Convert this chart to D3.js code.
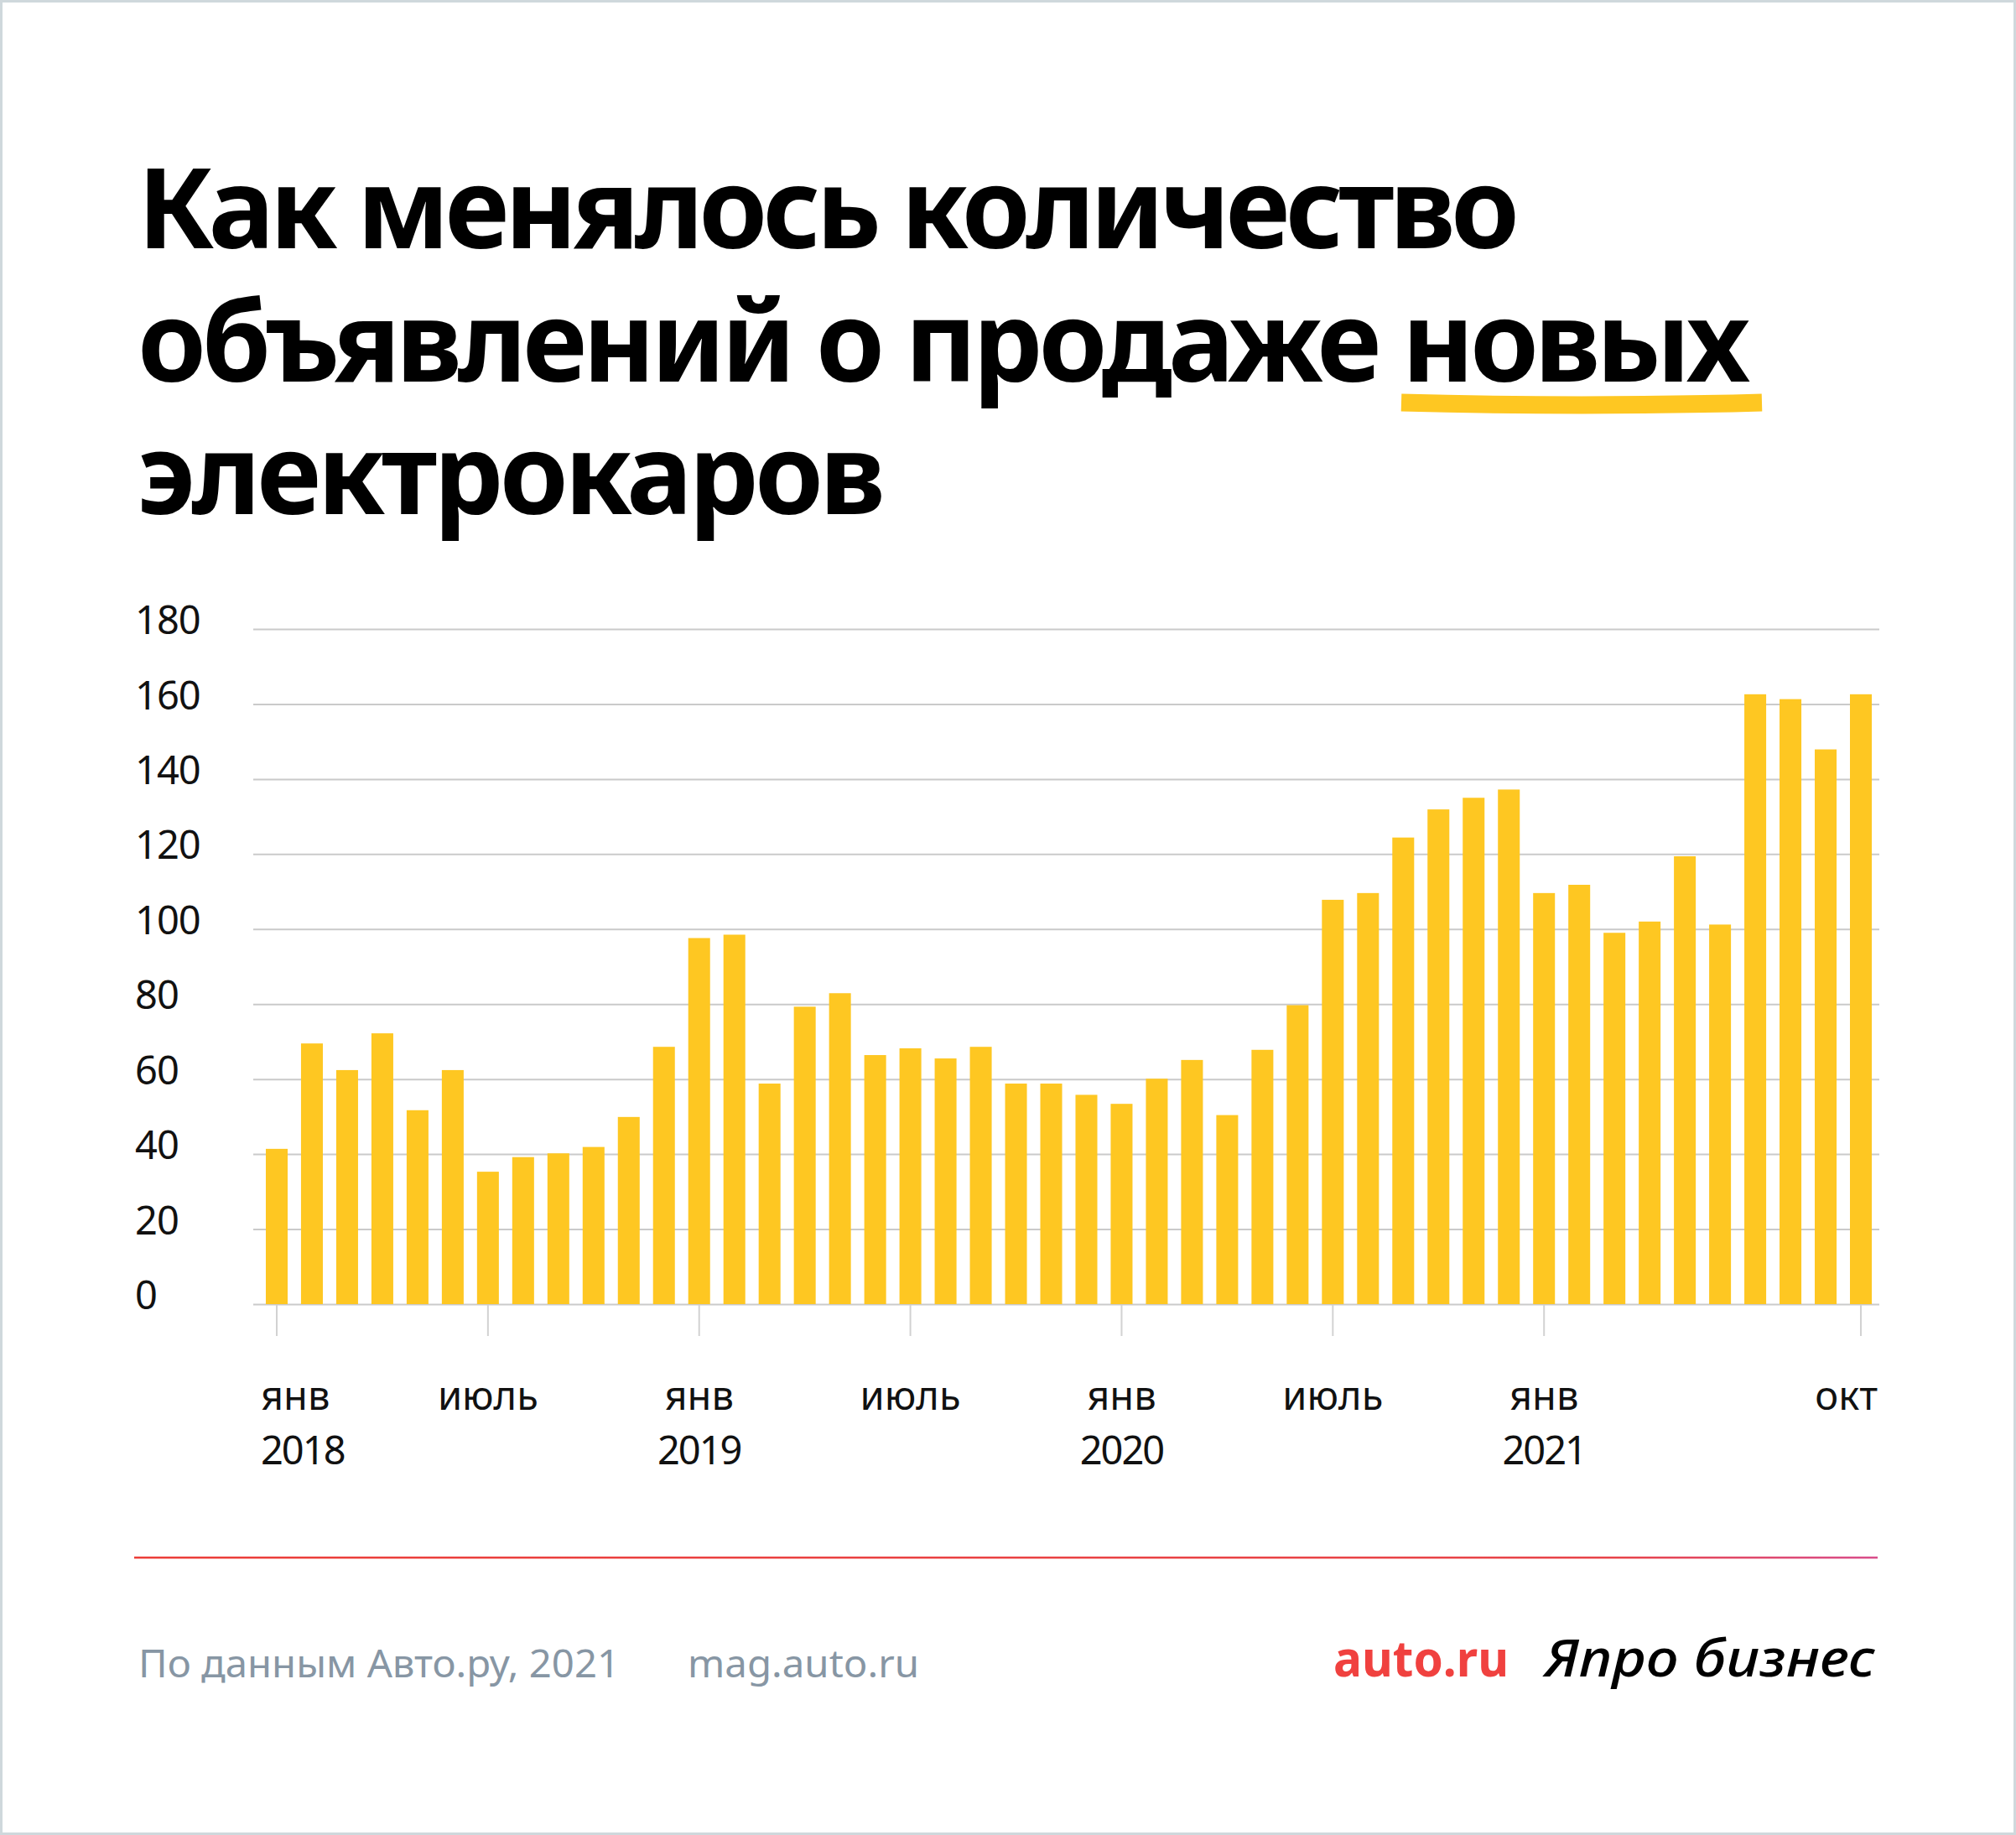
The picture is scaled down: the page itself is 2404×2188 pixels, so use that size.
<!DOCTYPE html>
<html>
<head>
<meta charset="utf-8">
<script src="https://cdn.jsdelivr.net/npm/d3@7"></script>
<style>
  html, body { margin: 0; padding: 0; background: #fff; }
  svg { display: block; }
</style>
</head>
<body>
<svg id="chart" width="2404" height="2188"></svg>
<script>
// months, Jan 2018 .. Oct 2021
const months = [
  "2018-01","2018-02","2018-03","2018-04","2018-05","2018-06","2018-07","2018-08","2018-09","2018-10","2018-11","2018-12",
  "2019-01","2019-02","2019-03","2019-04","2019-05","2019-06","2019-07","2019-08","2019-09","2019-10","2019-11","2019-12",
  "2020-01","2020-02","2020-03","2020-04","2020-05","2020-06","2020-07","2020-08","2020-09","2020-10","2020-11","2020-12",
  "2021-01","2021-02","2021-03","2021-04","2021-05","2021-06","2021-07","2021-08","2021-09","2021-10"
]

// number of listings
const listings = [
  41.4, 69.5, 62.4, 72.2, 51.7, 62.4, 35.3, 39.2, 40.2, 41.9, 49.9, 68.6,
  97.6, 98.5, 58.8, 79.3, 82.9, 66.4, 68.2, 65.5, 68.6, 58.8, 58.8, 55.8,
  53.4, 60.1, 65.1, 50.4, 67.8, 79.7, 107.8, 109.6, 124.4, 131.9, 135.0, 137.2,
  109.6, 111.8, 99.0, 102.0, 119.4, 101.2, 162.6, 161.3, 147.9, 162.6
]

const yTicks = [0, 20, 40, 60, 80, 100, 120, 140, 160, 180]

const tickMonths = ["2018-01","2018-07","2019-01","2019-07","2020-01","2020-07","2021-01","2021-10"]
const tickMonthLabels = ["янв","июль","янв","июль","янв","июль","янв","окт"]
const tickYearLabels = ["2018","","2019","","2020","","2021",""]

const titleLines = ["Как менялось количество", "объявлений о продаже новых", "электрокаров"]
const underlinedWord = "новых"

const sourceText = "По данным Авто.ру, 2021"
const siteText = "mag.auto.ru"

const barColor = "#fec722"
const gridColor = "#cacaca"
const labelFont = "'Noto Sans', 'DejaVu Sans', sans-serif"

var svg = d3.select("#chart")

// frame
svg.append("rect")
  .attr("x", 1.5).attr("y", 1.5)
  .attr("width", 2401).attr("height", 2185)
  .attr("fill", "#fff")
  .attr("stroke", "#cfd8dc")
  .attr("stroke-width", 3)

// title
const titleX = 164
const titleBase = [296, 455, 613]
const titleWidths = [1648, 1923, 892]

var title = svg.append("g")
titleLines.forEach((line, i) => {
  let t = title.append("text")
    .attr("x", titleX)
    .attr("y", titleBase[i])
    .attr("font-family", labelFont)
    .attr("font-weight", 700)
    .attr("font-size", 132)
    .attr("fill", "#000")
    .text(line)
  t.attr("textLength", titleWidths[i]).attr("lengthAdjust", "spacing")

  // yellow brush line under the word
  let k = line.indexOf(underlinedWord)
  if (k >= 0) {
    let n = t.node()
    let x1 = n.getEndPositionOfChar(k + underlinedWord.length - 1).x + 14
    let x0 = x1 - 430
    let yb = titleBase[i] + 25
    title.insert("path", "text")
      .attr("d", `M${x0},${yb} Q${(x0 + x1) / 2},${yb + 6} ${x1},${yb}`)
      .attr("fill", "none")
      .attr("stroke", barColor)
      .attr("stroke-width", 21)
  }
})

// scales
const plotLeft = 302, plotRight = 2241
const yBottom = 1555, yTop = 750

var x = d3.scaleBand()
  .domain(months)
  .range([309, 2240])
  .paddingInner(0.38)
  .paddingOuter(0.19)

var y = d3.scaleLinear()
  .domain([0, 180])
  .range([yBottom, yTop])

// grid + y labels
var yAxis = svg.append("g")
  .attr("transform", `translate(${plotLeft},0)`)
  .call(d3.axisLeft(y)
    .tickValues(yTicks)
    .tickSize(-(plotRight - plotLeft))
    .tickFormat(d3.format("d")))

yAxis.select(".domain").remove()
yAxis.selectAll(".tick line")
  .attr("stroke", gridColor)
  .attr("stroke-width", 2)
yAxis.selectAll(".tick text")
  .attr("x", 161 - plotLeft)
  .attr("dy", "0.12em")
  .attr("text-anchor", "start")
  .attr("font-family", labelFont)
  .attr("font-size", 47)
  .attr("letter-spacing", -1)
  .attr("fill", "#111")

// bars
svg.append("g")
  .selectAll("rect")
  .data(listings)
  .enter().append("rect")
  .attr("x", (d, i) => x(months[i]))
  .attr("width", x.bandwidth())
  .attr("y", d => y(d))
  .attr("height", d => y(0) - y(d))
  .attr("fill", barColor)

// x ticks
var xAxis = svg.append("g")
  .attr("transform", `translate(0,${yBottom + 1})`)
  .call(d3.axisBottom(x)
    .tickValues(tickMonths)
    .tickSize(37)
    .tickFormat(""))

xAxis.select(".domain").remove()
xAxis.selectAll(".tick line")
  .attr("stroke", "#d2d2d2")
  .attr("stroke-width", 2)

// x labels: month on top, year under it
var xLabels = svg.append("g")
  .attr("font-family", labelFont)
  .attr("font-size", 47)
  .attr("fill", "#111")

tickMonths.forEach((m, i) => {
  let cx = x(m) + x.bandwidth() / 2
  let anchor = "middle", lx = cx
  if (i === 0) { anchor = "start"; lx = cx - 19 }
  if (i === tickMonths.length - 1) { anchor = "end"; lx = cx + 20 }
  xLabels.append("text")
    .attr("x", lx).attr("y", 1681)
    .attr("text-anchor", anchor)
    .text(tickMonthLabels[i])
  if (tickYearLabels[i]) {
    xLabels.append("text")
      .attr("x", lx).attr("y", 1746)
      .attr("text-anchor", anchor)
      .attr("letter-spacing", -2)
      .text(tickYearLabels[i])
  }
})

// footer rule
var grad = svg.append("defs").append("linearGradient")
  .attr("id", "rule")
  .attr("x1", "0%").attr("x2", "100%")
grad.append("stop").attr("offset", "0%").attr("stop-color", "#ec3f3a")
grad.append("stop").attr("offset", "85%").attr("stop-color", "#e8454a")
grad.append("stop").attr("offset", "100%").attr("stop-color", "#d94f8c")

svg.append("rect")
  .attr("x", 160).attr("y", 1856)
  .attr("width", 2079).attr("height", 2.5)
  .attr("fill", "url(#rule)")

// footer texts
var foot = svg.append("g")
  .attr("font-family", labelFont)
  .attr("font-size", 46)
  .attr("fill", "#8796a4")

foot.append("text").attr("x", 165).attr("y", 2000)
  .attr("textLength", 574).attr("lengthAdjust", "spacingAndGlyphs")
  .text(sourceText)
foot.append("text").attr("x", 820).attr("y", 2000)
  .attr("textLength", 276).attr("lengthAdjust", "spacingAndGlyphs")
  .text(siteText)

// logos
svg.append("text")
  .attr("x", 1590).attr("y", 1999)
  .attr("font-family", labelFont)
  .attr("font-weight", 700)
  .attr("font-size", 60)
  .attr("fill", "#f0413f")
  .attr("textLength", 209).attr("lengthAdjust", "spacingAndGlyphs")
  .text("auto.ru")

svg.append("text")
  .attr("x", 1842).attr("y", 1999)
  .attr("font-family", labelFont)
  .attr("font-style", "italic")
  .attr("font-weight", 500)
  .attr("font-size", 62)
  .attr("fill", "#000")
  .attr("textLength", 394).attr("lengthAdjust", "spacingAndGlyphs")
  .text("Япро бизнес")
</script>
</body>
</html>
